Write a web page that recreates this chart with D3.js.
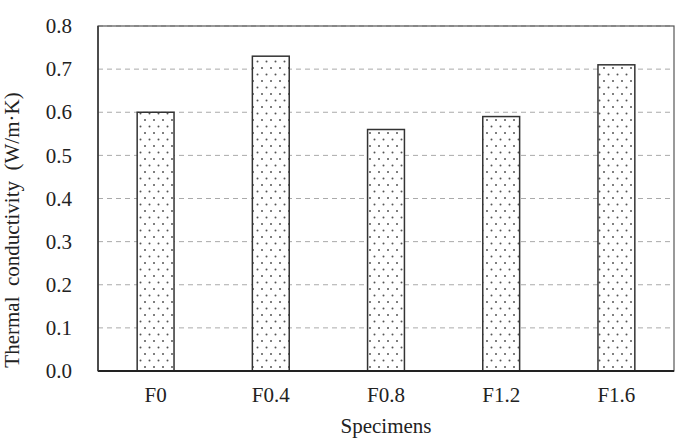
<!DOCTYPE html>
<html><head><meta charset="utf-8">
<script src="https://cdn.jsdelivr.net/npm/d3@7"></script>
<style>body{margin:0;background:#fff}svg{display:block}</style>
</head><body>
<svg id="c" width="680" height="438"></svg>
<script>
const categories = ["F0","F0.4","F0.8","F1.2","F1.6"];
const values = [0.60,0.73,0.56,0.59,0.71];
const yTicks = [0,0.1,0.2,0.3,0.4,0.5,0.6,0.7,0.8];
const yLabel = "Thermal  conductivity  (W/m·K)";
const xLabel = "Specimens";

const svg = d3.select("#c");
const m = {l:98, t:26, r:6, b:67};
const W = 680 - m.l - m.r, H = 438 - m.t - m.b;
const fs = 21;
const FONT = "Liberation Serif";

const defs = svg.append("defs");
const pat = defs.append("pattern").attr("id","dots").attr("patternUnits","userSpaceOnUse")
  .attr("width",9).attr("height",13);
pat.append("rect").attr("width",9).attr("height",13).attr("fill","#fff");
pat.append("circle").attr("cx",2).attr("cy",3).attr("r",1).attr("fill","#555");
pat.append("circle").attr("cx",6.5).attr("cy",9.5).attr("r",1).attr("fill","#555");

const g = svg.append("g").attr("transform",`translate(${m.l},${m.t})`);
const x = d3.scaleBand().domain(categories).range([0,W]).paddingInner(0.68).paddingOuter(0.34);
const y = d3.scaleLinear().domain([0,0.8]).range([H,0]);

// grid
g.selectAll(".grid").data(yTicks.filter(d=>d>0)).enter().append("line")
  .attr("x1",0).attr("x2",W).attr("y1",d=>y(d)).attr("y2",d=>y(d))
  .attr("stroke","#aaa").attr("stroke-width",1).attr("stroke-dasharray","5,4");

// bars
g.selectAll(".bar").data(values).enter().append("rect")
  .attr("x",(d,i)=>x(categories[i])).attr("width",x.bandwidth())
  .attr("y",d=>y(d)).attr("height",d=>H-y(d))
  .attr("fill","url(#dots)").attr("stroke","#333").attr("stroke-width",1.5);

// frame
g.append("rect").attr("x",0).attr("y",0).attr("width",W).attr("height",H)
  .attr("fill","none").attr("stroke","#555").attr("stroke-width",1.2);
g.append("line").attr("x1",0).attr("x2",W).attr("y1",H).attr("y2",H).attr("stroke","#222").attr("stroke-width",2);
g.append("line").attr("x1",0).attr("x2",0).attr("y1",0).attr("y2",H).attr("stroke","#333").attr("stroke-width",1.5);

// axes
const ya = g.append("g").call(d3.axisLeft(y).tickValues(yTicks).tickFormat(d3.format(".1f")).tickSize(0).tickPadding(26));
ya.attr("font-family",FONT).attr("font-size",fs);
ya.select(".domain").remove();
ya.selectAll("text").attr("font-family",FONT).attr("font-size",fs).attr("fill","#222");
const xa = g.append("g").attr("transform",`translate(0,${H})`).call(d3.axisBottom(x).tickSize(0).tickPadding(16));
xa.attr("font-family",FONT).attr("font-size",fs);
xa.select(".domain").remove();
xa.selectAll("text").attr("font-family",FONT).attr("font-size",fs).attr("fill","#222");

svg.append("text").attr("x",m.l+W/2).attr("y",433).attr("text-anchor","middle")
  .attr("font-family",FONT).attr("font-size",fs).attr("fill","#222").text(xLabel);
svg.append("text").attr("transform",`translate(19,230) rotate(-90)`).attr("text-anchor","middle")
  .attr("font-family",FONT).attr("font-size",fs).attr("fill","#222")
  .style("white-space","pre").text(yLabel);
</script>
</body></html>
